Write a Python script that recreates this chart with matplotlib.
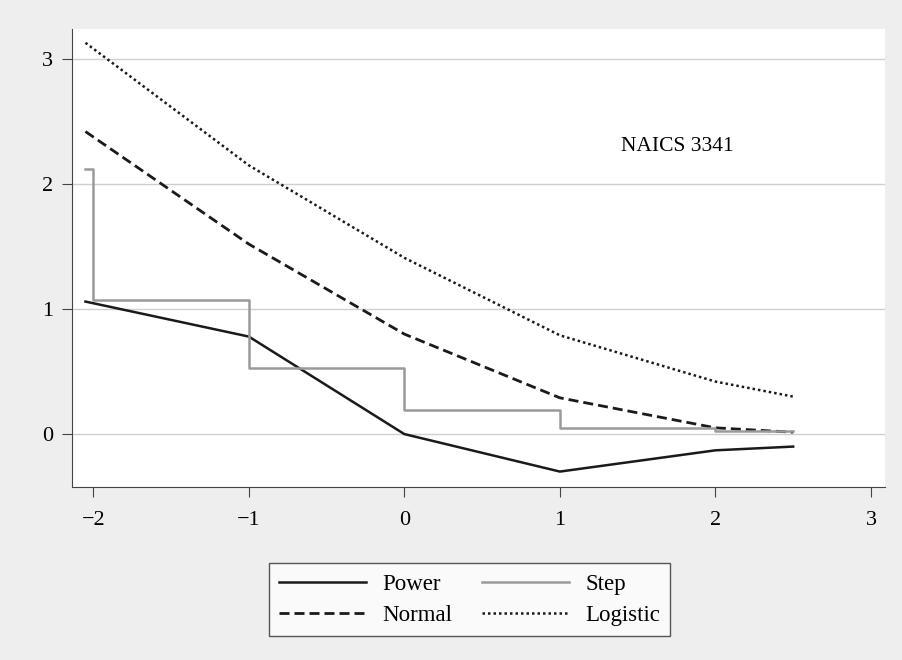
import matplotlib
matplotlib.use("Agg")
import matplotlib.pyplot as plt

# values
x_pts = [-2.05, -1, 0, 1, 2, 2.5]
power = [1.06, 0.78, 0.0, -0.30, -0.13, -0.10]
normal = [2.42, 1.52, 0.80, 0.29, 0.05, 0.015]
logistic = [3.13, 2.15, 1.41, 0.79, 0.42, 0.30]

step_x = [-2.05, -2.0, -1, 0, 1, 2, 2.5]
step_y = [2.12, 1.07, 0.53, 0.19, 0.05, 0.025, 0.025]

plt.rcParams["font.family"] = ["Liberation Serif", "DejaVu Serif"]
plt.rcParams["axes.unicode_minus"] = True

fig = plt.figure(figsize=(9.03, 6.6), dpi=100, facecolor="#eeeeee")
ax = fig.add_axes([0.080, 0.262, 0.900, 0.694])
ax.set_facecolor("white")

ax.plot(x_pts, power, color="#1a1a1a", lw=1.8, label="Power")
ax.plot(x_pts, normal, color="#1a1a1a", lw=2.0, ls=(0, (3.6, 1.8)), label="Normal")
ax.step(step_x, step_y, where="post", color="#9a9a9a", lw=1.8, label="Step")
ax.plot(x_pts, logistic, color="#1a1a1a", lw=1.8, ls=(0, (1, 1.2)), label="Logistic")

ax.set_xlim(-2.135, 3.09)
ax.set_ylim(-0.424, 3.24)
ax.set_xticks([-2, -1, 0, 1, 2, 3])
ax.set_yticks([0, 1, 2, 3])
ax.yaxis.grid(True, color="#cfcfcf", lw=1)
ax.set_axisbelow(True)
ax.tick_params(labelsize=16, length=7, color="#444444", pad=7)
ax.tick_params(axis="x", pad=10)
for s in ["top", "right"]:
    ax.spines[s].set_visible(False)
for s in ["left", "bottom"]:
    ax.spines[s].set_color("#444444")

ax.text(1.39, 2.3, "NAICS 3341", fontsize=15.5, ha="left", va="center")

h, l = ax.get_legend_handles_labels()
fig.legend(h, l, ncol=2,
           loc="center", bbox_to_anchor=(0.52, 0.091), fontsize=16.5,
           frameon=True, fancybox=False, edgecolor="#555555",
           facecolor="#fafafa", framealpha=1, handlelength=3.8,
           columnspacing=1.3, handletextpad=0.7, labelspacing=0.45,
           borderpad=0.45, borderaxespad=0)

fig.savefig("out.png", dpi=100, facecolor=fig.get_facecolor())
